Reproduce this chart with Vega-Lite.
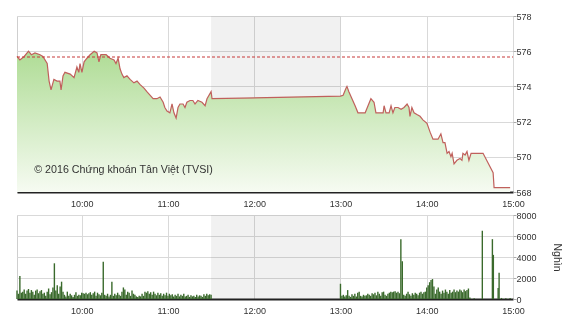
{
  "$schema": "https://vega.github.io/schema/vega-lite/v6.json",
  "padding": {"left": 14, "top": 11, "right": 8, "bottom": 0},
  "spacing": 23,
  "bounds": "flush",
  "background": "white",
  "config": {
    "font": "Liberation Sans",
    "view": {"stroke": "#cfcfcf", "strokeWidth": 1},
    "axis": {"labelFont": "Liberation Sans", "labelFontSize": 9, "labelColor": "#333333", "gridColor": "#d9d9d9", "gridWidth": 1, "tickColor": "#aaaaaa", "domain": false, "zindex": 1, "titleFont": "Liberation Sans"}
  },
  "datasets": {
    "session": [{"start": "2016-01-04T11:30:00", "end": "2016-01-04T13:00:00"}],
    "reference": [{"t": "2016-01-04T09:15:00", "p": 575.67}, {"t": "2016-01-04T15:00:00", "p": 575.67}],
    "price": [
      {"t": "2016-01-04T09:15:00", "p": 575.7},
      {"t": "2016-01-04T09:17:00", "p": 575.5},
      {"t": "2016-01-04T09:20:00", "p": 575.7},
      {"t": "2016-01-04T09:23:00", "p": 576.0},
      {"t": "2016-01-04T09:25:00", "p": 575.8},
      {"t": "2016-01-04T09:27:30", "p": 575.9},
      {"t": "2016-01-04T09:31:00", "p": 575.8},
      {"t": "2016-01-04T09:33:00", "p": 575.7},
      {"t": "2016-01-04T09:36:00", "p": 575.3},
      {"t": "2016-01-04T09:37:20", "p": 574.3},
      {"t": "2016-01-04T09:38:40", "p": 573.8},
      {"t": "2016-01-04T09:40:40", "p": 574.4},
      {"t": "2016-01-04T09:42:50", "p": 574.3},
      {"t": "2016-01-04T09:44:50", "p": 574.3},
      {"t": "2016-01-04T09:45:40", "p": 573.8},
      {"t": "2016-01-04T09:47:00", "p": 574.6},
      {"t": "2016-01-04T09:48:20", "p": 574.8},
      {"t": "2016-01-04T09:52:00", "p": 574.7},
      {"t": "2016-01-04T09:54:40", "p": 574.5},
      {"t": "2016-01-04T09:56:40", "p": 575.1},
      {"t": "2016-01-04T09:58:00", "p": 574.8},
      {"t": "2016-01-04T09:58:50", "p": 575.3},
      {"t": "2016-01-04T10:00:10", "p": 574.8},
      {"t": "2016-01-04T10:01:40", "p": 575.4},
      {"t": "2016-01-04T10:03:40", "p": 575.6},
      {"t": "2016-01-04T10:05:50", "p": 575.8},
      {"t": "2016-01-04T10:08:40", "p": 576.0},
      {"t": "2016-01-04T10:10:40", "p": 575.9},
      {"t": "2016-01-04T10:12:00", "p": 575.4},
      {"t": "2016-01-04T10:13:20", "p": 575.8},
      {"t": "2016-01-04T10:17:00", "p": 575.8},
      {"t": "2016-01-04T10:19:40", "p": 575.6},
      {"t": "2016-01-04T10:22:30", "p": 575.5},
      {"t": "2016-01-04T10:23:50", "p": 575.3},
      {"t": "2016-01-04T10:25:20", "p": 575.6},
      {"t": "2016-01-04T10:26:40", "p": 575.0},
      {"t": "2016-01-04T10:28:00", "p": 574.7},
      {"t": "2016-01-04T10:29:20", "p": 574.5},
      {"t": "2016-01-04T10:31:30", "p": 574.6},
      {"t": "2016-01-04T10:33:40", "p": 574.4},
      {"t": "2016-01-04T10:36:20", "p": 574.2},
      {"t": "2016-01-04T10:38:30", "p": 574.3},
      {"t": "2016-01-04T10:40:40", "p": 574.1},
      {"t": "2016-01-04T10:43:20", "p": 573.9},
      {"t": "2016-01-04T10:45:20", "p": 573.7},
      {"t": "2016-01-04T10:47:30", "p": 573.5},
      {"t": "2016-01-04T10:49:40", "p": 573.3},
      {"t": "2016-01-04T10:52:20", "p": 573.3},
      {"t": "2016-01-04T10:54:30", "p": 573.4},
      {"t": "2016-01-04T10:56:40", "p": 573.1},
      {"t": "2016-01-04T10:57:50", "p": 572.8},
      {"t": "2016-01-04T10:59:20", "p": 572.6},
      {"t": "2016-01-04T11:01:20", "p": 572.5},
      {"t": "2016-01-04T11:02:50", "p": 573.0},
      {"t": "2016-01-04T11:04:10", "p": 572.5},
      {"t": "2016-01-04T11:05:40", "p": 572.2},
      {"t": "2016-01-04T11:07:00", "p": 572.8},
      {"t": "2016-01-04T11:08:20", "p": 573.0},
      {"t": "2016-01-04T11:10:30", "p": 573.0},
      {"t": "2016-01-04T11:11:50", "p": 572.8},
      {"t": "2016-01-04T11:13:10", "p": 573.1},
      {"t": "2016-01-04T11:15:20", "p": 573.2},
      {"t": "2016-01-04T11:17:20", "p": 573.2},
      {"t": "2016-01-04T11:18:50", "p": 573.0},
      {"t": "2016-01-04T11:20:50", "p": 573.2},
      {"t": "2016-01-04T11:23:40", "p": 573.1},
      {"t": "2016-01-04T11:25:50", "p": 572.9},
      {"t": "2016-01-04T11:27:10", "p": 573.3},
      {"t": "2016-01-04T11:30:00", "p": 573.7},
      {"t": "2016-01-04T11:30:40", "p": 573.3},
      {"t": "2016-01-04T13:00:00", "p": 573.45},
      {"t": "2016-01-04T13:01:50", "p": 573.5},
      {"t": "2016-01-04T13:03:50", "p": 573.9},
      {"t": "2016-01-04T13:04:30", "p": 574.0},
      {"t": "2016-01-04T13:05:50", "p": 573.7},
      {"t": "2016-01-04T13:08:00", "p": 573.3},
      {"t": "2016-01-04T13:10:10", "p": 572.9},
      {"t": "2016-01-04T13:12:10", "p": 572.5},
      {"t": "2016-01-04T13:15:00", "p": 572.5},
      {"t": "2016-01-04T13:17:10", "p": 572.5},
      {"t": "2016-01-04T13:19:10", "p": 572.9},
      {"t": "2016-01-04T13:21:10", "p": 573.3},
      {"t": "2016-01-04T13:23:20", "p": 573.1},
      {"t": "2016-01-04T13:24:40", "p": 572.5},
      {"t": "2016-01-04T13:27:30", "p": 572.5},
      {"t": "2016-01-04T13:29:40", "p": 572.5},
      {"t": "2016-01-04T13:30:20", "p": 572.9},
      {"t": "2016-01-04T13:31:40", "p": 572.5},
      {"t": "2016-01-04T13:33:50", "p": 572.5},
      {"t": "2016-01-04T13:35:10", "p": 572.9},
      {"t": "2016-01-04T13:36:30", "p": 572.5},
      {"t": "2016-01-04T13:37:50", "p": 572.8},
      {"t": "2016-01-04T13:40:00", "p": 572.8},
      {"t": "2016-01-04T13:42:10", "p": 572.7},
      {"t": "2016-01-04T13:44:10", "p": 572.8},
      {"t": "2016-01-04T13:46:20", "p": 573.0},
      {"t": "2016-01-04T13:47:40", "p": 572.8},
      {"t": "2016-01-04T13:48:20", "p": 572.3},
      {"t": "2016-01-04T13:49:40", "p": 572.8},
      {"t": "2016-01-04T13:51:10", "p": 572.5},
      {"t": "2016-01-04T13:53:10", "p": 572.4},
      {"t": "2016-01-04T13:55:20", "p": 572.3},
      {"t": "2016-01-04T13:57:20", "p": 572.1},
      {"t": "2016-01-04T14:00:10", "p": 571.9},
      {"t": "2016-01-04T14:02:20", "p": 571.4},
      {"t": "2016-01-04T14:04:20", "p": 571.0},
      {"t": "2016-01-04T14:06:30", "p": 571.0},
      {"t": "2016-01-04T14:07:50", "p": 571.0},
      {"t": "2016-01-04T14:09:50", "p": 571.3},
      {"t": "2016-01-04T14:11:20", "p": 570.8},
      {"t": "2016-01-04T14:12:40", "p": 570.8},
      {"t": "2016-01-04T14:14:10", "p": 570.2},
      {"t": "2016-01-04T14:15:30", "p": 570.3},
      {"t": "2016-01-04T14:16:50", "p": 570.0},
      {"t": "2016-01-04T14:17:40", "p": 570.2},
      {"t": "2016-01-04T14:19:00", "p": 569.6},
      {"t": "2016-01-04T14:21:00", "p": 569.8},
      {"t": "2016-01-04T14:23:10", "p": 569.9},
      {"t": "2016-01-04T14:24:30", "p": 569.8},
      {"t": "2016-01-04T14:25:10", "p": 570.2},
      {"t": "2016-01-04T14:26:40", "p": 570.1},
      {"t": "2016-01-04T14:28:00", "p": 570.3},
      {"t": "2016-01-04T14:29:20", "p": 569.8},
      {"t": "2016-01-04T14:30:50", "p": 570.2},
      {"t": "2016-01-04T14:39:10", "p": 570.2},
      {"t": "2016-01-04T14:46:10", "p": 569.1},
      {"t": "2016-01-04T14:46:50", "p": 568.25},
      {"t": "2016-01-04T14:58:00", "p": 568.25}
    ],
    "volume": [
      {"t": "2016-01-04T09:15:00", "v": 800}, {"t": "2016-01-04T09:16:00", "v": 500}, {"t": "2016-01-04T09:17:00", "v": 2200}, {"t": "2016-01-04T09:18:00", "v": 600},
      {"t": "2016-01-04T09:19:00", "v": 700}, {"t": "2016-01-04T09:20:00", "v": 900}, {"t": "2016-01-04T09:21:00", "v": 500}, {"t": "2016-01-04T09:22:00", "v": 800},
      {"t": "2016-01-04T09:23:00", "v": 950}, {"t": "2016-01-04T09:24:00", "v": 600}, {"t": "2016-01-04T09:25:00", "v": 850}, {"t": "2016-01-04T09:26:00", "v": 700},
      {"t": "2016-01-04T09:27:00", "v": 400}, {"t": "2016-01-04T09:28:00", "v": 800}, {"t": "2016-01-04T09:29:00", "v": 900}, {"t": "2016-01-04T09:30:00", "v": 550},
      {"t": "2016-01-04T09:31:00", "v": 750}, {"t": "2016-01-04T09:32:00", "v": 850}, {"t": "2016-01-04T09:33:00", "v": 500}, {"t": "2016-01-04T09:34:00", "v": 600},
      {"t": "2016-01-04T09:35:00", "v": 300}, {"t": "2016-01-04T09:36:00", "v": 700}, {"t": "2016-01-04T09:37:00", "v": 1000}, {"t": "2016-01-04T09:38:00", "v": 450},
      {"t": "2016-01-04T09:39:00", "v": 650}, {"t": "2016-01-04T09:40:00", "v": 1100}, {"t": "2016-01-04T09:41:00", "v": 3400}, {"t": "2016-01-04T09:42:00", "v": 800},
      {"t": "2016-01-04T09:43:00", "v": 1300}, {"t": "2016-01-04T09:44:00", "v": 500}, {"t": "2016-01-04T09:45:00", "v": 1200}, {"t": "2016-01-04T09:46:00", "v": 1650},
      {"t": "2016-01-04T09:47:00", "v": 700}, {"t": "2016-01-04T09:48:00", "v": 400}, {"t": "2016-01-04T09:49:00", "v": 250}, {"t": "2016-01-04T09:50:00", "v": 700},
      {"t": "2016-01-04T09:51:00", "v": 300}, {"t": "2016-01-04T09:52:00", "v": 500}, {"t": "2016-01-04T09:53:00", "v": 350}, {"t": "2016-01-04T09:54:00", "v": 200},
      {"t": "2016-01-04T09:55:00", "v": 400}, {"t": "2016-01-04T09:56:00", "v": 650}, {"t": "2016-01-04T09:57:00", "v": 300}, {"t": "2016-01-04T09:58:00", "v": 400},
      {"t": "2016-01-04T09:59:00", "v": 350}, {"t": "2016-01-04T10:00:00", "v": 600}, {"t": "2016-01-04T10:01:00", "v": 550}, {"t": "2016-01-04T10:02:00", "v": 500},
      {"t": "2016-01-04T10:03:00", "v": 600}, {"t": "2016-01-04T10:04:00", "v": 450}, {"t": "2016-01-04T10:05:00", "v": 550}, {"t": "2016-01-04T10:06:00", "v": 650},
      {"t": "2016-01-04T10:07:00", "v": 400}, {"t": "2016-01-04T10:08:00", "v": 550}, {"t": "2016-01-04T10:09:00", "v": 700}, {"t": "2016-01-04T10:10:00", "v": 300},
      {"t": "2016-01-04T10:11:00", "v": 600}, {"t": "2016-01-04T10:12:00", "v": 450}, {"t": "2016-01-04T10:13:00", "v": 350}, {"t": "2016-01-04T10:14:00", "v": 600},
      {"t": "2016-01-04T10:15:00", "v": 3550}, {"t": "2016-01-04T10:16:00", "v": 400}, {"t": "2016-01-04T10:17:00", "v": 300}, {"t": "2016-01-04T10:18:00", "v": 500},
      {"t": "2016-01-04T10:19:00", "v": 250}, {"t": "2016-01-04T10:20:00", "v": 400}, {"t": "2016-01-04T10:21:00", "v": 1650}, {"t": "2016-01-04T10:22:00", "v": 300},
      {"t": "2016-01-04T10:23:00", "v": 500}, {"t": "2016-01-04T10:24:00", "v": 350}, {"t": "2016-01-04T10:25:00", "v": 600}, {"t": "2016-01-04T10:26:00", "v": 400},
      {"t": "2016-01-04T10:27:00", "v": 300}, {"t": "2016-01-04T10:28:00", "v": 700}, {"t": "2016-01-04T10:29:00", "v": 1100}, {"t": "2016-01-04T10:30:00", "v": 900},
      {"t": "2016-01-04T10:31:00", "v": 400}, {"t": "2016-01-04T10:32:00", "v": 700}, {"t": "2016-01-04T10:33:00", "v": 600}, {"t": "2016-01-04T10:34:00", "v": 300},
      {"t": "2016-01-04T10:35:00", "v": 800}, {"t": "2016-01-04T10:36:00", "v": 500}, {"t": "2016-01-04T10:37:00", "v": 400}, {"t": "2016-01-04T10:38:00", "v": 250},
      {"t": "2016-01-04T10:39:00", "v": 200}, {"t": "2016-01-04T10:40:00", "v": 300}, {"t": "2016-01-04T10:41:00", "v": 250}, {"t": "2016-01-04T10:42:00", "v": 500},
      {"t": "2016-01-04T10:43:00", "v": 300}, {"t": "2016-01-04T10:44:00", "v": 700}, {"t": "2016-01-04T10:45:00", "v": 600}, {"t": "2016-01-04T10:46:00", "v": 750},
      {"t": "2016-01-04T10:47:00", "v": 500}, {"t": "2016-01-04T10:48:00", "v": 650}, {"t": "2016-01-04T10:49:00", "v": 400}, {"t": "2016-01-04T10:50:00", "v": 700},
      {"t": "2016-01-04T10:51:00", "v": 500}, {"t": "2016-01-04T10:52:00", "v": 350}, {"t": "2016-01-04T10:53:00", "v": 600}, {"t": "2016-01-04T10:54:00", "v": 400},
      {"t": "2016-01-04T10:55:00", "v": 550}, {"t": "2016-01-04T10:56:00", "v": 300}, {"t": "2016-01-04T10:57:00", "v": 500}, {"t": "2016-01-04T10:58:00", "v": 350},
      {"t": "2016-01-04T10:59:00", "v": 600}, {"t": "2016-01-04T11:00:00", "v": 300}, {"t": "2016-01-04T11:01:00", "v": 500}, {"t": "2016-01-04T11:02:00", "v": 350},
      {"t": "2016-01-04T11:03:00", "v": 450}, {"t": "2016-01-04T11:04:00", "v": 250}, {"t": "2016-01-04T11:05:00", "v": 400}, {"t": "2016-01-04T11:06:00", "v": 300},
      {"t": "2016-01-04T11:07:00", "v": 500}, {"t": "2016-01-04T11:08:00", "v": 250}, {"t": "2016-01-04T11:09:00", "v": 400}, {"t": "2016-01-04T11:10:00", "v": 300},
      {"t": "2016-01-04T11:11:00", "v": 500}, {"t": "2016-01-04T11:12:00", "v": 250}, {"t": "2016-01-04T11:13:00", "v": 300}, {"t": "2016-01-04T11:14:00", "v": 400},
      {"t": "2016-01-04T11:15:00", "v": 200}, {"t": "2016-01-04T11:16:00", "v": 350}, {"t": "2016-01-04T11:17:00", "v": 250}, {"t": "2016-01-04T11:18:00", "v": 300},
      {"t": "2016-01-04T11:19:00", "v": 200}, {"t": "2016-01-04T11:20:00", "v": 400}, {"t": "2016-01-04T11:21:00", "v": 250}, {"t": "2016-01-04T11:22:00", "v": 350},
      {"t": "2016-01-04T11:23:00", "v": 300}, {"t": "2016-01-04T11:24:00", "v": 200}, {"t": "2016-01-04T11:25:00", "v": 450}, {"t": "2016-01-04T11:26:00", "v": 300},
      {"t": "2016-01-04T11:27:00", "v": 500}, {"t": "2016-01-04T11:28:00", "v": 350}, {"t": "2016-01-04T11:29:00", "v": 450}, {"t": "2016-01-04T11:30:00", "v": 400},
      {"t": "2016-01-04T13:00:00", "v": 1450}, {"t": "2016-01-04T13:01:00", "v": 300}, {"t": "2016-01-04T13:02:00", "v": 400}, {"t": "2016-01-04T13:03:00", "v": 250},
      {"t": "2016-01-04T13:04:00", "v": 350}, {"t": "2016-01-04T13:05:00", "v": 850}, {"t": "2016-01-04T13:06:00", "v": 300}, {"t": "2016-01-04T13:07:00", "v": 200},
      {"t": "2016-01-04T13:08:00", "v": 450}, {"t": "2016-01-04T13:09:00", "v": 300}, {"t": "2016-01-04T13:10:00", "v": 500}, {"t": "2016-01-04T13:11:00", "v": 250},
      {"t": "2016-01-04T13:12:00", "v": 600}, {"t": "2016-01-04T13:13:00", "v": 700}, {"t": "2016-01-04T13:14:00", "v": 300}, {"t": "2016-01-04T13:15:00", "v": 250},
      {"t": "2016-01-04T13:16:00", "v": 400}, {"t": "2016-01-04T13:17:00", "v": 300}, {"t": "2016-01-04T13:18:00", "v": 350}, {"t": "2016-01-04T13:19:00", "v": 500},
      {"t": "2016-01-04T13:20:00", "v": 400}, {"t": "2016-01-04T13:21:00", "v": 300}, {"t": "2016-01-04T13:22:00", "v": 550}, {"t": "2016-01-04T13:23:00", "v": 450},
      {"t": "2016-01-04T13:24:00", "v": 600}, {"t": "2016-01-04T13:25:00", "v": 350}, {"t": "2016-01-04T13:26:00", "v": 700}, {"t": "2016-01-04T13:27:00", "v": 500},
      {"t": "2016-01-04T13:28:00", "v": 300}, {"t": "2016-01-04T13:29:00", "v": 650}, {"t": "2016-01-04T13:30:00", "v": 700}, {"t": "2016-01-04T13:31:00", "v": 400},
      {"t": "2016-01-04T13:32:00", "v": 300}, {"t": "2016-01-04T13:33:00", "v": 500}, {"t": "2016-01-04T13:34:00", "v": 600}, {"t": "2016-01-04T13:35:00", "v": 700},
      {"t": "2016-01-04T13:36:00", "v": 650}, {"t": "2016-01-04T13:37:00", "v": 700}, {"t": "2016-01-04T13:38:00", "v": 750}, {"t": "2016-01-04T13:39:00", "v": 600},
      {"t": "2016-01-04T13:40:00", "v": 700}, {"t": "2016-01-04T13:41:00", "v": 550}, {"t": "2016-01-04T13:42:00", "v": 5700}, {"t": "2016-01-04T13:43:00", "v": 3600},
      {"t": "2016-01-04T13:44:00", "v": 400}, {"t": "2016-01-04T13:45:00", "v": 300}, {"t": "2016-01-04T13:46:00", "v": 500}, {"t": "2016-01-04T13:47:00", "v": 700},
      {"t": "2016-01-04T13:48:00", "v": 450}, {"t": "2016-01-04T13:49:00", "v": 300}, {"t": "2016-01-04T13:50:00", "v": 550}, {"t": "2016-01-04T13:51:00", "v": 400},
      {"t": "2016-01-04T13:52:00", "v": 600}, {"t": "2016-01-04T13:53:00", "v": 500}, {"t": "2016-01-04T13:54:00", "v": 350}, {"t": "2016-01-04T13:55:00", "v": 600},
      {"t": "2016-01-04T13:56:00", "v": 700}, {"t": "2016-01-04T13:57:00", "v": 500}, {"t": "2016-01-04T13:58:00", "v": 650}, {"t": "2016-01-04T13:59:00", "v": 700},
      {"t": "2016-01-04T14:00:00", "v": 1100}, {"t": "2016-01-04T14:01:00", "v": 1300}, {"t": "2016-01-04T14:02:00", "v": 1600}, {"t": "2016-01-04T14:03:00", "v": 1800},
      {"t": "2016-01-04T14:04:00", "v": 1900}, {"t": "2016-01-04T14:05:00", "v": 1200}, {"t": "2016-01-04T14:06:00", "v": 500}, {"t": "2016-01-04T14:07:00", "v": 900},
      {"t": "2016-01-04T14:08:00", "v": 1100}, {"t": "2016-01-04T14:09:00", "v": 700}, {"t": "2016-01-04T14:10:00", "v": 500}, {"t": "2016-01-04T14:11:00", "v": 800},
      {"t": "2016-01-04T14:12:00", "v": 600}, {"t": "2016-01-04T14:13:00", "v": 900}, {"t": "2016-01-04T14:14:00", "v": 700}, {"t": "2016-01-04T14:15:00", "v": 500},
      {"t": "2016-01-04T14:16:00", "v": 850}, {"t": "2016-01-04T14:17:00", "v": 600}, {"t": "2016-01-04T14:18:00", "v": 700}, {"t": "2016-01-04T14:19:00", "v": 900},
      {"t": "2016-01-04T14:20:00", "v": 650}, {"t": "2016-01-04T14:21:00", "v": 800}, {"t": "2016-01-04T14:22:00", "v": 700}, {"t": "2016-01-04T14:23:00", "v": 900},
      {"t": "2016-01-04T14:24:00", "v": 800}, {"t": "2016-01-04T14:25:00", "v": 650}, {"t": "2016-01-04T14:26:00", "v": 900}, {"t": "2016-01-04T14:27:00", "v": 750},
      {"t": "2016-01-04T14:28:00", "v": 850}, {"t": "2016-01-04T14:29:00", "v": 1000}, {"t": "2016-01-04T14:30:00", "v": 150}, {"t": "2016-01-04T14:33:00", "v": 80},
      {"t": "2016-01-04T14:38:40", "v": 6500}, {"t": "2016-01-04T14:45:40", "v": 5700}, {"t": "2016-01-04T14:46:20", "v": 4200}, {"t": "2016-01-04T14:49:40", "v": 1050},
      {"t": "2016-01-04T14:50:20", "v": 2500}, {"t": "2016-01-04T14:52:00", "v": 100}, {"t": "2016-01-04T14:55:00", "v": 80}, {"t": "2016-01-04T14:58:00", "v": 100}
    ],
    "credit": [{"t": "2016-01-04T09:27:00", "p": 569.25, "label": "© 2016 Chứng khoán Tân Việt (TVSI)"}]
  },
  "vconcat": [
    {
      "width": 496,
      "height": 176,
      "layer": [
        {
          "data": {"name": "session"},
          "mark": {"type": "rect", "color": "#f1f1f1", "blend": "multiply"},
          "encoding": {
            "x": {"field": "start", "type": "temporal", "title": null},
            "x2": {"field": "end"}
          }
        },
        {
          "encoding": {
            "x": {"field": "t", "type": "temporal", "title": null,
              "scale": {"domain": [{"year": 2016, "month": 1, "date": 4, "hours": 9, "minutes": 15}, {"year": 2016, "month": 1, "date": 4, "hours": 15}], "nice": false, "padding": 0},
              "axis": {"orient": "bottom", "format": "%H:%M", "values": [{"year": 2016, "month": 1, "date": 4, "hours": 10}, {"year": 2016, "month": 1, "date": 4, "hours": 11}, {"year": 2016, "month": 1, "date": 4, "hours": 12}, {"year": 2016, "month": 1, "date": 4, "hours": 13}, {"year": 2016, "month": 1, "date": 4, "hours": 14}, {"year": 2016, "month": 1, "date": 4, "hours": 15}],
                "grid": true, "ticks": false, "domain": true, "domainColor": "#222222", "domainWidth": 2, "labelPadding": 7, "labelFlush": false, "labelOverlap": false}},
            "y": {"field": "p", "type": "quantitative", "title": null,
              "scale": {"domain": [568, 578], "zero": false, "nice": false},
              "axis": {"orient": "right", "values": [568, 570, 572, 574, 576, 578], "grid": true, "ticks": true, "tickSize": 3, "labelPadding": 0, "labelOverlap": false, "labelFlush": false}}
          },
          "layer": [
            {
              "data": {"name": "price"},
              "mark": {"type": "area", "color": {"gradient": "linear", "x1": 0, "y1": 0, "x2": 0, "y2": 1, "stops": [{"offset": 0, "color": "#afdc95"}, {"offset": 1, "color": "#f6fbf2"}]}},
              "encoding": {"y2": {"datum": 568}}
            },
            {
              "data": {"name": "price"},
              "mark": {"type": "line", "color": "#c0605c", "strokeWidth": 1.2}
            },
            {
              "data": {"name": "reference"},
              "mark": {"type": "line", "color": "#c83a3a", "strokeDash": [3, 2], "strokeWidth": 1.2}
            },
            {
              "data": {"name": "credit"},
              "mark": {"type": "text", "align": "left", "baseline": "middle", "fontSize": 10.7, "color": "#333333", "font": "Liberation Sans"},
              "encoding": {"text": {"field": "label"}}
            }
          ]
        }
      ]
    },
    {
      "width": 496,
      "height": 84,
      "layer": [
        {
          "data": {"name": "session"},
          "mark": {"type": "rect", "color": "#f1f1f1", "blend": "multiply"},
          "encoding": {
            "x": {"field": "start", "type": "temporal", "title": null},
            "x2": {"field": "end"}
          }
        },
        {
          "data": {"name": "volume"},
          "mark": {"type": "bar", "color": "#3a6a2c", "width": 1.4},
          "encoding": {
            "x": {"field": "t", "type": "temporal", "scale": {"domain": [{"year": 2016, "month": 1, "date": 4, "hours": 9, "minutes": 15}, {"year": 2016, "month": 1, "date": 4, "hours": 15}], "nice": false, "padding": 0},
              "axis": {"title": null, "orient": "bottom", "format": "%H:%M", "values": [{"year": 2016, "month": 1, "date": 4, "hours": 10}, {"year": 2016, "month": 1, "date": 4, "hours": 11}, {"year": 2016, "month": 1, "date": 4, "hours": 12}, {"year": 2016, "month": 1, "date": 4, "hours": 13}, {"year": 2016, "month": 1, "date": 4, "hours": 14}, {"year": 2016, "month": 1, "date": 4, "hours": 15}],
                "grid": true, "ticks": false, "domain": true, "domainColor": "#222222", "domainWidth": 2, "labelPadding": 7, "labelFlush": false, "labelOverlap": false}},
            "y": {"field": "v", "type": "quantitative", "scale": {"domain": [0, 8000], "nice": false},
              "axis": {"title": "Nghìn", "format": "d", "titleAngle": 90, "titleFontSize": 10.5, "titleFontWeight": "normal", "titleColor": "#333333", "titlePadding": 15, "orient": "right", "values": [0, 2000, 4000, 6000, 8000], "grid": true, "ticks": true, "tickSize": 3, "labelPadding": 0, "labelOverlap": false, "labelFlush": false}}
          }
        }
      ]
    }
  ]
}
